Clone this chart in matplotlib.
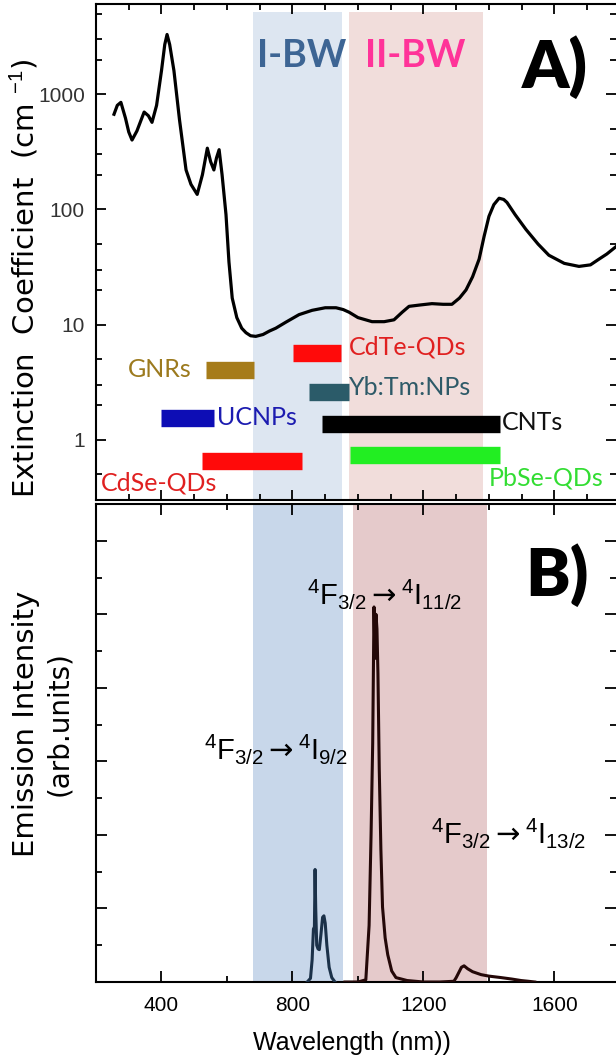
import matplotlib
matplotlib.use("Agg")
import matplotlib.pyplot as plt
from matplotlib.ticker import FixedLocator, NullFormatter, MultipleLocator, LogLocator

# extinction spectrum (top panel), wavelength in nm, coefficient in cm^-1
ext_nm = [255, 265, 276, 290, 300, 310, 325, 347, 360, 371, 385, 400, 410, 417, 425,
          438, 455, 475, 490, 509, 525, 540, 550, 560, 568, 576, 585, 597, 606, 616,
          630, 645, 658, 672, 688, 710, 730, 749, 780, 820, 860, 900, 933, 955, 973,
          1000, 1043, 1080, 1110, 1135, 1156, 1190, 1226, 1260, 1287, 1310, 1330, 1350,
          1370, 1385, 1400, 1415, 1431, 1445, 1455, 1480, 1513, 1550, 1583, 1630, 1675,
          1710, 1736, 1760, 1790]
ext_val = [670, 800, 850, 620, 470, 400, 480, 700, 650, 570, 800, 1600, 2700, 3300, 2700,
           1600, 600, 220, 165, 135, 200, 340, 260, 220, 280, 330, 200, 90, 35, 17,
           11.5, 9.3, 8.5, 8.0, 7.9, 8.2, 8.8, 9.3, 10.5, 12.2, 13.3, 14.0, 14.0, 13.5, 12.8,
           11.5, 10.6, 10.6, 11.0, 12.8, 14.4, 14.8, 15.2, 15.0, 15.0, 17, 20, 26,
           37, 58, 87, 110, 125, 122, 115, 90, 67, 50, 40, 34, 32,
           33, 37, 41, 48]

# materials and their spectral windows
mat_names = ["GNRs", "UCNPs", "CdSe-QDs", "CdTe-QDs", "Yb:Tm:NPs", "CNTs", "PbSe-QDs"]
mat_start = [536, 400, 524, 801, 850, 890, 975]
mat_end = [683, 560, 829, 948, 972, 1433, 1433]
mat_level = [4.0, 1.55, 0.65, 5.7, 2.6, 1.38, 0.74]
mat_colors = ["#a67c1a", "#0d0db5", "#ff0a0a", "#ff0a0a", "#2b5b69", "#000000", "#22ee22"]
label_colors = ["#9c7a1e", "#1c1cb0", "#e02020", "#e02020", "#2e5a68", "#111111", "#33dd33"]

# emission spectrum (bottom panel)
em_blue_nm = [845, 855, 860, 864, 867, 869, 871, 874, 878, 882, 887, 892, 896, 900, 905, 912, 920, 930]
em_blue_val = [0, 0.05, 0.3, 0.72, 0.75, 1.53, 1.0, 0.5, 0.45, 0.44, 0.65, 0.88, 0.9, 0.8, 0.5, 0.2, 0.06, 0]
em_red_nm = [960, 1000, 1024, 1034, 1040, 1045, 1049, 1052, 1055, 1058, 1061, 1065, 1070, 1075,
             1083, 1091, 1103, 1116, 1150, 1200, 1250, 1293, 1300, 1308, 1316, 1324, 1335, 1350,
             1376, 1400, 1437, 1470, 1498, 1520, 1540]
em_red_val = [0, 0, 0.03, 0.77, 2.0, 3.25, 5.1, 4.4, 5.0, 4.8, 4.2, 2.9, 1.8, 1.02,
              0.6, 0.37, 0.15, 0.06, 0.02, 0, 0, 0.01, 0.06, 0.13, 0.2, 0.22, 0.18, 0.14,
              0.1, 0.08, 0.06, 0.04, 0.02, 0.01, 0]

plt.rcParams['font.family'] = ['Liberation Sans', 'DejaVu Sans']
plt.rcParams['mathtext.fontset'] = 'custom'
plt.rcParams['mathtext.rm'] = 'Liberation Sans'
plt.rcParams['mathtext.it'] = 'Liberation Sans:italic'
plt.rcParams['mathtext.sf'] = 'DejaVu Sans'
plt.rcParams['mathtext.fallback'] = 'stix'

fig = plt.figure(figsize=(6.16, 10.6), dpi=100)
left = 96 / 616
ax1 = fig.add_axes([left, 560 / 1060, 1 - left, 496 / 1060])
ax2 = fig.add_axes([left, 78 / 1060, 1 - left, 478 / 1060])

# ---- top panel
ax1.set_yscale("log")
ax1.set_xlim(200, 1788)
ax1.set_ylim(0.30, 6070)
ax1.axvspan(680, 950, ymax=0.984, color="#dde6f1", lw=0, zorder=0)
ax1.axvspan(972, 1382, ymax=0.984, color="#f1dddb", lw=0, zorder=0)
ax1.plot(ext_nm, ext_val, color="black", lw=2.3, zorder=3)
ax1.hlines(mat_level, mat_start, mat_end, colors=mat_colors, lw=12.5, capstyle="butt", zorder=4)

lab = dict(fontsize=18, family=["Lato", "DejaVu Sans"], va="center")
ax1.text(493, 4.1, mat_names[0], color=label_colors[0], ha="right", **lab)
ax1.text(569, 1.55, mat_names[1], color=label_colors[1], ha="left", **lab)
ax1.text(214, 0.42, mat_names[2], color=label_colors[2], ha="left", **lab)
ax1.text(972, 6.4, mat_names[3], color=label_colors[3], ha="left", **lab)
ax1.text(972, 2.85, mat_names[4], color=label_colors[4], ha="left", **lab)
ax1.text(1440, 1.41, mat_names[5], color=label_colors[5], ha="left", **lab)
ax1.text(1400, 0.47, mat_names[6], color=label_colors[6], ha="left", **lab)

bw = dict(fontsize=27, family=["Lato", "DejaVu Sans"], fontweight="bold", ha="center", va="center")
ax1.text(829, 2140, "I-BW", color="#3d6594", **bw)
ax1.text(1174, 2140, "II-BW", color="#ff3399", **bw)
ax1.text(0.882, 0.872, "A)", transform=ax1.transAxes, fontsize=48, family=["Lato", "DejaVu Sans"],
         fontweight="heavy", ha="center", va="center")

ax1.yaxis.set_major_locator(FixedLocator([1, 10, 100, 1000]))
ax1.yaxis.set_minor_locator(LogLocator(base=10, subs=(2.0, 3.0, 5.0)))
ax1.yaxis.set_minor_formatter(NullFormatter())
ax1.set_yticklabels(["1", "10", "100", "1000"])
ax1.xaxis.set_major_locator(MultipleLocator(400))
ax1.xaxis.set_minor_locator(MultipleLocator(100))
ax1.xaxis.set_major_formatter(NullFormatter())
ax1.tick_params(which="both", direction="in", top=True, right=True, width=1.3)
ax1.tick_params(which="major", length=7, labelsize=15, labelcolor="#333333", pad=8)
ax1.tick_params(which="minor", length=4)

# ---- bottom panel
ax2.set_xlim(200, 1788)
ax2.set_ylim(0, 6.5)
ax2.axvspan(679, 954, color="#c8d7ea", lw=0, zorder=0)
ax2.axvspan(985, 1394, color="#e5cacb", lw=0, zorder=0)
ax2.plot(em_blue_nm, em_blue_val, color="#1b3149", lw=2.2, zorder=3)
ax2.plot(em_red_nm, em_red_val, color="#240808", lw=2.2, zorder=3)

ann = dict(fontsize=21, ha="left", va="center")
ax2.text(845, 5.27, r"$\mathrm{^4F_{3/2}}\mathsf{\rightarrow}\mathrm{^4I_{11/2}}$", **ann)
ax2.text(530, 3.17, r"$\mathrm{^4F_{3/2}}\mathsf{\rightarrow}\mathrm{^4I_{9/2}}$", **ann)
ax2.text(1222, 2.02, r"$\mathrm{^4F_{3/2}}\mathsf{\rightarrow}\mathrm{^4I_{13/2}}$", **ann)
ax2.text(0.887, 0.852, "B)", transform=ax2.transAxes, fontsize=48, family=["Lato", "DejaVu Sans"],
         fontweight="heavy", ha="center", va="center")

ax2.xaxis.set_major_locator(FixedLocator([400, 800, 1200, 1600]))
ax2.xaxis.set_minor_locator(MultipleLocator(200))
ax2.yaxis.set_major_locator(MultipleLocator(1))
ax2.yaxis.set_minor_locator(MultipleLocator(0.5))
ax2.yaxis.set_major_formatter(NullFormatter())
ax2.tick_params(which="both", direction="in", top=True, right=True, width=1.3)
ax2.tick_params(which="major", length=8, labelsize=15, pad=10)
ax2.tick_params(which="minor", length=4)

for ax in (ax1, ax2):
    for s in ax.spines.values():
        s.set_linewidth(1.5)
    ax.spines["right"].set_visible(False)

fig.text(24 / 616, 1 - 278 / 1060, "Extinction  Coefficient  (cm $^{-1}$)", family="DejaVu Sans",
         fontsize=21, rotation=90, ha="center", va="center")
fig.text(26 / 616, 1 - 724 / 1060, "Emission Intensity", family="DejaVu Sans",
         fontsize=21, rotation=90, ha="center", va="center")
fig.text(59 / 616, 1 - 724 / 1060, "(arb.units)", family="DejaVu Sans",
         fontsize=20, rotation=90, ha="center", va="center")
fig.text(352 / 616, 1 - 1043 / 1060, "Wavelength (nm))", fontsize=18, ha="center", va="center")

fig.savefig("out.png", dpi=100)
